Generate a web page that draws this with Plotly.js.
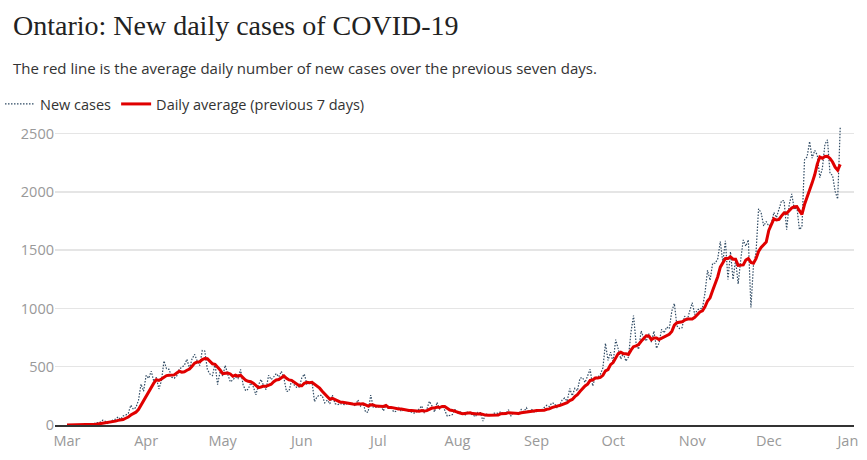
<!DOCTYPE html>
<html>
<head>
<meta charset="utf-8">
<script src="https://cdn.plot.ly/plotly-3.0.1.min.js"></script>
<style>
  html, body { margin: 0; padding: 0; background: #fff; }
  #chart { width: 867px; height: 460px; }
</style>
</head>
<body>
<div id="chart"></div>
<script>
// ---- Data, daily values from 1 Mar 2020 to 29 Dec 2020 ----
// New daily cases by month
const casesMar = [3,0,2,1,4,3,3,5,4,2,5,17,20,24,42,32,12,29,44,50,69,48,78,85,100,170,135,151,211,351,290];
const casesApr = [426,401,462,375,408,309,379,550,483,478,411,401,421,483,494,514,564,485,568,606,551,510,640,634,476,437,424,525,347,459];
const casesMay = [421,511,434,370,387,412,399,477,346,294,308,361,329,258,341,391,340,304,427,390,413,441,412,460,404,287,292,383,344,323,326];
const casesJun = [404,437,350,356,370,200,243,257,251,190,214,182,257,184,173,184,181,173,186,178,184,161,216,163,189,111,111,257,154,152];
const casesJul = [153,165,121,173,138,154,112,118,150,116,130,129,116,111,102,111,135,164,103,135,203,165,111,195,138,164,129,76,82,89,134];
const casesAug = [95,113,92,86,117,95,88,70,108,106,33,95,88,78,98,104,100,115,95,97,131,79,105,96,91,133,114,148,111,137,112];
const casesSep = [114,133,132,148,169,158,190,185,149,170,213,232,204,313,251,315,293,401,407,365,425,478,335,409,409,435,491,700,554,625];
const casesOct = [538,732,653,566,615,548,583,797,939,704,649,807,746,721,783,712,805,658,704,821,790,841,826,978,1042,851,827,834,934,896,977];
const casesNov = [1050,948,987,998,1003,1132,1328,1242,1388,1388,1426,1575,1396,1581,1248,1487,1249,1417,1210,1418,1588,1534,1589,1009,1373,1478,1855,1822,1708,1746];
const casesDec = [1707,1723,1824,1780,1859,1924,1925,1676,1890,1983,1848,1873,1677,1700,2275,2300,2432,2290,2357,2316,2123,2202,2408,2447,2159,2142,2005,1939,2553];

// Daily average (previous 7 days) by month
const avgMar = [1,1,1,1,2,2,2,3,3,3,4,6,8,11,16,20,22,25,29,33,40,41,47,58,68,86,98,110,133,172,201];
const avgApr = [248,281,327,359,388,382,394,412,424,426,431,430,446,461,453,457,470,480,504,531,540,543,561,571,569,551,525,521,498,472];
const avgMay = [441,446,446,438,418,428,419,427,404,384,375,371,359,339,320,326,333,332,341,350,372,387,390,407,421,401,387,383,369,356,337];
const avgJun = [337,358,367,363,367,349,337,316,290,267,246,220,228,219,207,198,196,191,191,180,180,178,183,180,182,172,162,173,172,162];
const avgJul = [161,158,159,168,151,151,145,140,138,137,131,130,124,124,122,116,119,124,120,123,136,145,145,154,150,159,158,140,128,125,116];
const avgAug = [110,103,97,99,104,105,98,94,94,96,88,85,84,83,87,86,85,97,97,98,106,103,103,103,99,105,107,109,114,119,121];
const avgSep = [124,124,127,127,135,138,149,159,162,167,176,185,192,209,219,243,260,287,312,335,351,383,386,403,404,408,426,465,476,518];
const avgOct = [536,582,613,624,612,611,605,642,672,679,691,718,746,766,764,732,746,747,733,743,753,762,778,803,857,878,879,886,899,909,909];
const avgNov = [910,924,947,970,980,1014,1064,1091,1154,1211,1272,1354,1392,1428,1429,1443,1423,1422,1370,1373,1374,1415,1429,1395,1389,1427,1489,1523,1548,1570];
const avgDec = [1670,1720,1769,1759,1764,1795,1820,1816,1840,1862,1872,1874,1839,1807,1892,1951,2015,2078,2147,2239,2299,2289,2304,2306,2287,2257,2212,2186,2236];

const monthNums = ['03','04','05','06','07','08','09','10','11','12'];
const casesByMonth = [casesMar,casesApr,casesMay,casesJun,casesJul,casesAug,casesSep,casesOct,casesNov,casesDec];
const avgByMonth = [avgMar,avgApr,avgMay,avgJun,avgJul,avgAug,avgSep,avgOct,avgNov,avgDec];

const seriesNames = ['New cases', 'Daily average (previous 7 days)'];
const yTicks = [0, 500, 1000, 1500, 2000, 2500];

// Build date-indexed series (one entry per day of each month)
const dates = [], cases = [], avg = [];
monthNums.forEach((m, i) => {
  casesByMonth[i].forEach((v, d) => {
    dates.push('2020-' + m + '-' + String(d + 1).padStart(2, '0'));
    cases.push(v);
    avg.push(avgByMonth[i][d]);
  });
});

const traces = [
  {
    x: dates, y: cases, name: seriesNames[0], type: 'scatter', mode: 'lines',
    line: { color: '#2f4a63', width: 1.2, dash: '1.5px,1.5px' }
  },
  {
    x: dates, y: avg, name: seriesNames[1], type: 'scatter', mode: 'lines',
    line: { color: '#e00000', width: 3 }
  }
];

const layout = {
  width: 867, height: 460,
  margin: { l: 55, r: 13, t: 122, b: 35 },
  paper_bgcolor: '#fff', plot_bgcolor: '#fff',
  font: { family: 'Open Sans, sans-serif', color: '#333', size: 14 },
  title: {
    text: 'Ontario: New daily cases of COVID-19',
    font: { family: 'Liberation Serif, serif', size: 28, color: '#222' },
    x: 13 / 867, xref: 'container', xanchor: 'left',
    y: 1 - 25 / 460, yref: 'container', yanchor: 'middle'
  },
  annotations: [{
    text: 'The red line is the average daily number of new cases over the previous seven days.',
    xref: 'paper', yref: 'paper', x: (11 - 55) / 799, y: (425 - 68) / 303.3,
    xanchor: 'left', yanchor: 'middle', showarrow: false,
    font: { family: 'Open Sans, sans-serif', size: 15, color: '#333' }
  }],
  showlegend: true,
  legend: {
    orientation: 'h', xref: 'container', yref: 'container',
    x: -3 / 867, y: 1 - 104 / 460, xanchor: 'left', yanchor: 'middle',
    font: { family: 'Open Sans, sans-serif', size: 14.5, color: '#333' },
    itemwidth: 30, traceorder: 'normal', bgcolor: 'rgba(0,0,0,0)'
  },
  xaxis: {
    type: 'date',
    range: ['2020-02-25 07:00', '2021-01-03 09:30'],
    tick0: '2020-03-01', dtick: 'M1', tickformat: '%b',
    showgrid: false, zeroline: false,
    showline: true, linecolor: '#333', linewidth: 1.5,
    ticks: '', ticklabelstandoff: 2, tickfont: { color: '#999', size: 14.5 }
  },
  yaxis: {
    range: [0, 2600],
    tickvals: yTicks,
    showgrid: true, gridcolor: '#e5e5e5', gridwidth: 1.5,
    zeroline: false, showline: false, ticks: '',
    tickfont: { color: '#999', size: 14.5 }
  }
};

Plotly.newPlot('chart', traces, layout, { staticPlot: true, displayModeBar: false });
</script>
</body>
</html>
